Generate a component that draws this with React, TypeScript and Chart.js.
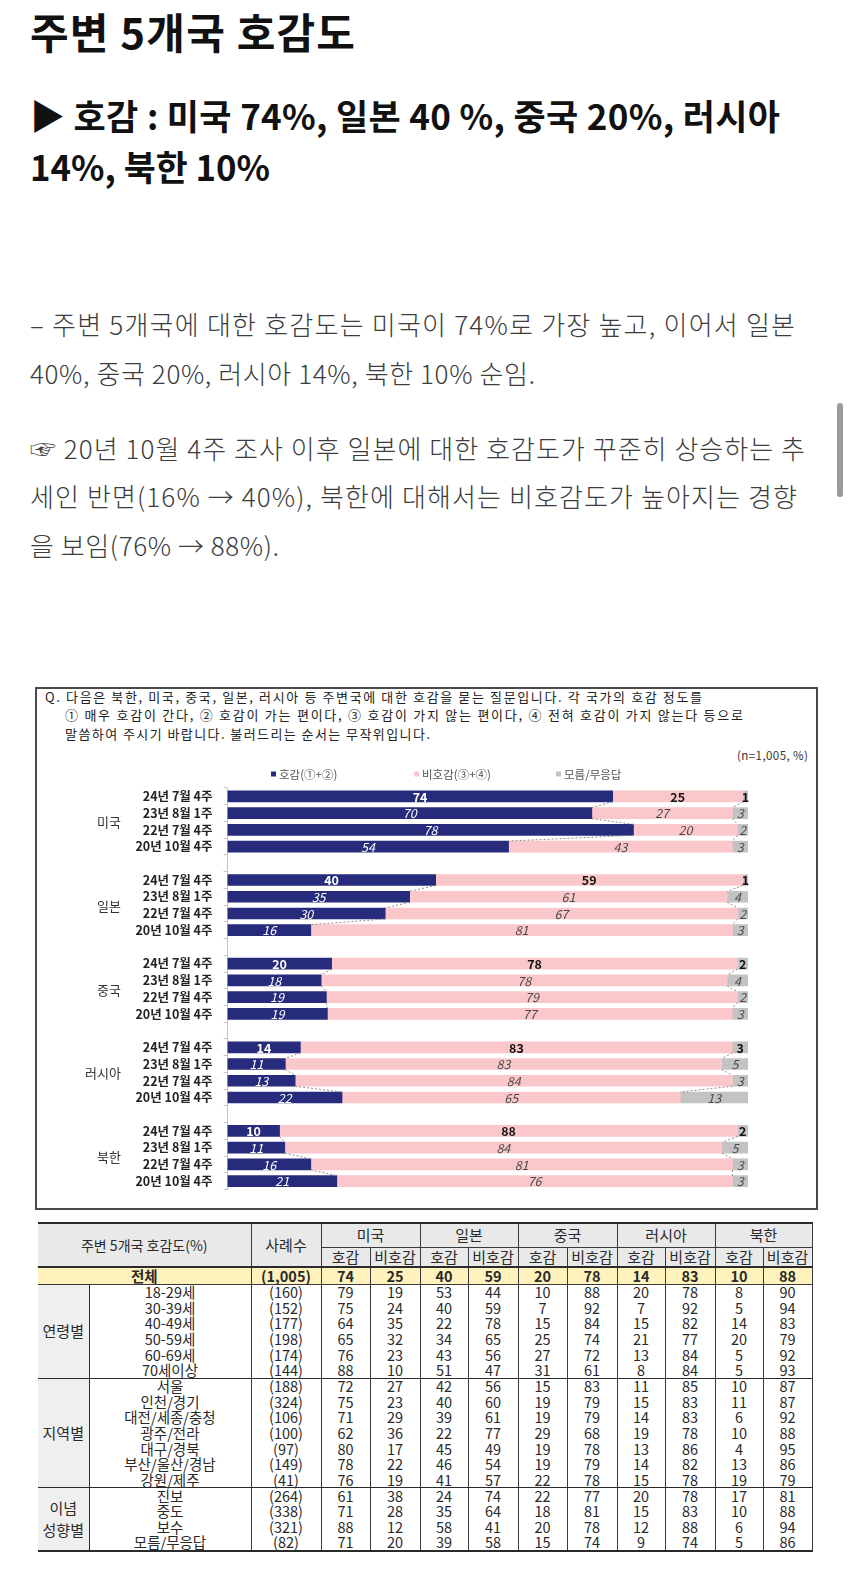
import React, { useEffect, useLayoutEffect, useRef } from 'react';
import { Chart, registerables } from 'chart.js';

Chart.register(...registerables);

const FONT = '"Noto Sans CJK KR", "Noto Sans", sans-serif';

// ---------- chart data ----------
const countries = ['미국', '일본', '중국', '러시아', '북한'];
const waves = ['24년 7월 4주', '23년 8월 1주', '22년 7월 4주', '20년 10월 4주'];
const favorable = [
  [74, 70, 78, 54],
  [40, 35, 30, 16],
  [20, 18, 19, 19],
  [14, 11, 13, 22],
  [10, 11, 16, 21],
];
const unfavorable = [
  [25, 27, 20, 43],
  [59, 61, 67, 81],
  [78, 78, 79, 77],
  [83, 83, 84, 65],
  [88, 84, 81, 76],
];
const dontKnow = [
  [1, 3, 2, 3],
  [1, 4, 2, 3],
  [2, 4, 2, 3],
  [3, 5, 3, 13],
  [2, 5, 3, 3],
];
const seriesNames = ['호감(①+②)', '비호감(③+④)', '모름/무응답'];
const seriesColors = ['#272b7b', '#fbc7cb', '#c3c3c3'];

// ---------- table data ----------
const tableCountries = ['미국', '일본', '중국', '러시아', '북한'];
const totalN = '(1,005)';
const totalVals = [74, 25, 40, 59, 20, 78, 14, 83, 10, 88];
const ageRows = ['18-29세', '30-39세', '40-49세', '50-59세', '60-69세', '70세이상'];
const ageN = ['(160)', '(152)', '(177)', '(198)', '(174)', '(144)'];
const ageVals = [
  [79, 19, 53, 44, 10, 88, 20, 78, 8, 90],
  [75, 24, 40, 59, 7, 92, 7, 92, 5, 94],
  [64, 35, 22, 78, 15, 84, 15, 82, 14, 83],
  [65, 32, 34, 65, 25, 74, 21, 77, 20, 79],
  [76, 23, 43, 56, 27, 72, 13, 84, 5, 92],
  [88, 10, 51, 47, 31, 61, 8, 84, 5, 93],
];
const regionRows = ['서울', '인천/경기', '대전/세종/충청', '광주/전라', '대구/경북', '부산/울산/경남', '강원/제주'];
const regionN = ['(188)', '(324)', '(106)', '(100)', '(97)', '(149)', '(41)'];
const regionVals = [
  [72, 27, 42, 56, 15, 83, 11, 85, 10, 87],
  [75, 23, 40, 60, 19, 79, 15, 83, 11, 87],
  [71, 29, 39, 61, 19, 79, 14, 83, 6, 92],
  [62, 36, 22, 77, 29, 68, 19, 78, 10, 88],
  [80, 17, 45, 49, 19, 78, 13, 86, 4, 95],
  [78, 22, 46, 54, 19, 79, 14, 82, 13, 86],
  [76, 19, 41, 57, 22, 78, 15, 78, 19, 79],
];
const ideoRows = ['진보', '중도', '보수', '모름/무응답'];
const ideoN = ['(264)', '(338)', '(321)', '(82)'];
const ideoVals = [
  [61, 38, 24, 74, 22, 77, 20, 78, 17, 81],
  [71, 28, 35, 64, 18, 81, 15, 83, 10, 88],
  [88, 12, 58, 41, 20, 78, 12, 88, 6, 94],
  [71, 20, 39, 58, 15, 74, 9, 74, 5, 86],
];
const tableGroups = [
  { name: ['연령별'], rows: ageRows, n: ageN, vals: ageVals },
  { name: ['지역별'], rows: regionRows, n: regionN, vals: regionVals },
  { name: ['이념', '성향별'], rows: ideoRows, n: ideoN, vals: ideoVals },
];

// ---------- derived chart structures ----------
type Slot = { g: number; w: number } | null;
const slots: Slot[] = [];
countries.forEach((_, g) => {
  if (g > 0) slots.push(null);
  waves.forEach((_, w) => slots.push({ g, w }));
});
const yLabels = slots.map((s) => (s ? waves[s.w] : ''));
const rawSeries = [favorable, unfavorable, dontKnow];
const rawBySlot = rawSeries.map((series) => slots.map((s) => (s ? series[s.g][s.w] : null)));
const sumBySlot = slots.map((s) => (s ? rawSeries.reduce((a, series) => a + series[s.g][s.w], 0) : 1));

const chartPlugin = {
  id: 'surveyDecor',
  afterDatasetsDraw(chart: any) {
    const ctx = chart.ctx;
    ctx.save();
    // series lines
    ctx.strokeStyle = '#8c8c8c';
    ctx.lineWidth = 1;
    ctx.setLineDash([2, 2]);
    [0, 1].forEach((di) => {
      const els = chart.getDatasetMeta(di).data;
      for (let i = 0; i < slots.length - 1; i++) {
        if (!slots[i] || !slots[i + 1]) continue;
        const a = els[i];
        const b = els[i + 1];
        ctx.beginPath();
        ctx.moveTo(a.x, a.y + a.height / 2);
        ctx.lineTo(b.x, b.y - b.height / 2);
        ctx.stroke();
      }
    });
    ctx.setLineDash([]);
    // value labels
    ctx.textAlign = 'center';
    ctx.textBaseline = 'middle';
    chart.data.datasets.forEach((_: any, di: number) => {
      const els = chart.getDatasetMeta(di).data;
      els.forEach((el: any, i: number) => {
        const s = slots[i];
        const v = rawBySlot[di][i];
        if (!s || v == null) return;
        const first = s.w === 0;
        ctx.font = `${first ? 'bold' : 'italic'} 12.5px ${FONT}`;
        ctx.fillStyle = di === 0 ? '#ffffff' : first ? '#111111' : '#4a4a4a';
        ctx.fillText(String(v), (el.x + el.base) / 2, el.y + 0.5);
      });
    });
    // group labels
    const y = chart.scales.y;
    ctx.textAlign = 'right';
    ctx.font = `13px ${FONT}`;
    ctx.fillStyle = '#333';
    countries.forEach((c, g) => {
      const idx = slots.map((s, i) => (s && s.g === g ? i : -1)).filter((i) => i >= 0);
      const cy = (y.getPixelForValue(idx[0]) + y.getPixelForValue(idx[idx.length - 1])) / 2;
      ctx.fillText(c, 84, cy + 1);
    });
    ctx.restore();
  },
  afterDraw(chart: any) {
    const ctx = chart.ctx;
    const xs = [234, 377, 519];
    const ly = 12;
    ctx.save();
    ctx.font = `11.5px ${FONT}`;
    ctx.textBaseline = 'middle';
    ctx.textAlign = 'left';
    chart.data.datasets.forEach((ds: any, i: number) => {
      ctx.fillStyle = ds.backgroundColor;
      ctx.fillRect(xs[i], ly - 2.5, 5, 5);
      ctx.fillStyle = '#555';
      ctx.fillText(ds.label, xs[i] + 8, ly + 0.5);
    });
    ctx.restore();
  },
};

function SurveyChart() {
  const ref = useRef<HTMLCanvasElement>(null);
  useEffect(() => {
    const chart = new Chart(ref.current as HTMLCanvasElement, {
      type: 'bar',
      data: {
        labels: yLabels,
        datasets: rawSeries.map((_, k) => ({
          label: seriesNames[k],
          data: rawBySlot[k].map((v, i) => (v == null ? null : (v / sumBySlot[i]) * 100)),
          backgroundColor: seriesColors[k],
          borderWidth: 0,
          barThickness: 11,
        })),
      },
      options: {
        indexAxis: 'y',
        responsive: false,
        animation: false,
        layout: { padding: { left: 0, right: 68, top: 26, bottom: 6 } },
        scales: {
          x: { stacked: true, min: 0, max: 100, display: false },
          y: {
            stacked: true,
            afterFit: (scale: any) => {
              scale.width = 190.5;
            },
            grid: { drawOnChartArea: false, drawTicks: true, tickLength: 4, color: '#c4c4c4', offset: true },
            border: { display: true, color: '#c4c4c4' },
            ticks: {
              autoSkip: false,
              padding: 11,
              color: '#222',
              font: { family: FONT, size: 12.5, weight: 'bold' },
            },
          },
        },
        plugins: { legend: { display: false }, tooltip: { enabled: false } },
      } as any,
      plugins: [chartPlugin],
    });
    return () => chart.destroy();
  }, []);
  return (
    <canvas
      ref={ref}
      width={779}
      height={446}
      style={{ position: 'absolute', left: 37, top: 762, width: 779, height: 446 }}
    />
  );
}

// Text line fitted to a measured width: condensed with scaleX when too wide, spaced when too narrow.
function FitText(props: {
  text: string;
  x: number;
  cy: number;
  w: number;
  size: number;
  weight?: number | string;
  color?: string;
}) {
  const { text, x, cy, w, size, weight = 400, color = '#222' } = props;
  const ref = useRef<HTMLDivElement>(null);
  useLayoutEffect(() => {
    const el = ref.current;
    if (!el) return;
    const fit = () => {
      el.style.letterSpacing = '0px';
      el.style.transform = 'none';
      const nat = el.getBoundingClientRect().width;
      const n = Array.from(text).length;
      if (nat > w) {
        el.style.transform = `scaleX(${w / nat})`;
      } else if (n > 1) {
        el.style.letterSpacing = `${(w - nat) / (n - 1)}px`;
      }
    };
    fit();
    const f: any = (document as any).fonts;
    if (f && f.ready) f.ready.then(fit);
  }, [text, w]);
  return (
    <div
      ref={ref}
      style={{
        position: 'absolute',
        left: x,
        top: cy - size * 0.56,
        fontSize: size,
        lineHeight: `${size}px`,
        fontWeight: weight as any,
        color,
        fontFamily: FONT,
        whiteSpace: 'nowrap',
        transformOrigin: '0 50%',
      }}
    >
      {text}
    </div>
  );
}

const colW = [51, 162, 70, 49, 50, 48, 50, 49, 50, 48, 50, 48, 49];
const LINE = '1px solid #3a3a3a';
const THICK = '2px solid #2a2a2a';
const MID = '1.5px solid #2a2a2a';
const HEADER_BG = '#e9e9e9';

function SurveyTable() {
  const cell: React.CSSProperties = {
    padding: 0,
    textAlign: 'center',
    verticalAlign: 'middle',
    lineHeight: '14px',
    whiteSpace: 'nowrap',
    overflow: 'visible',
  };
  return (
    <table
      style={{
        position: 'absolute',
        left: 38,
        top: 1222,
        width: 774,
        borderCollapse: 'collapse',
        tableLayout: 'fixed',
        fontFamily: FONT,
        fontSize: 14.5,
        color: '#2a2a2a',
      }}
    >
      <colgroup>
        {colW.map((w, i) => (
          <col key={i} style={{ width: w }} />
        ))}
      </colgroup>
      <thead>
        <tr style={{ height: 24 }}>
          <th
            colSpan={2}
            rowSpan={2}
            style={{ ...cell, fontWeight: 400, fontSize: 14, background: HEADER_BG, borderTop: THICK, borderRight: LINE, borderBottom: THICK }}
          >
            주변 5개국 호감도(%)
          </th>
          <th
            rowSpan={2}
            style={{ ...cell, fontWeight: 400, fontSize: 15, background: HEADER_BG, borderTop: THICK, borderRight: LINE, borderBottom: THICK }}
          >
            사례수
          </th>
          {tableCountries.map((c) => (
            <th
              key={c}
              colSpan={2}
              style={{ ...cell, fontWeight: 400, fontSize: 15, background: HEADER_BG, borderTop: THICK, borderRight: LINE, borderBottom: LINE }}
            >
              {c}
            </th>
          ))}
        </tr>
        <tr style={{ height: 20 }}>
          {tableCountries.map((c) => (
            <React.Fragment key={c}>
              <th style={{ ...cell, fontWeight: 400, fontSize: 15, background: HEADER_BG, borderRight: LINE, borderBottom: THICK }}>호감</th>
              <th style={{ ...cell, fontWeight: 400, fontSize: 15, background: HEADER_BG, borderRight: LINE, borderBottom: THICK }}>비호감</th>
            </React.Fragment>
          ))}
        </tr>
      </thead>
      <tbody>
        <tr style={{ height: 17, background: '#fff2bd', fontWeight: 700 }}>
          <td colSpan={2} style={{ ...cell, borderRight: LINE, borderBottom: LINE }}>전체</td>
          <td style={{ ...cell, borderRight: LINE, borderBottom: LINE }}>{totalN}</td>
          {totalVals.map((v, i) => (
            <td key={i} style={{ ...cell, borderRight: LINE, borderBottom: LINE }}>{v}</td>
          ))}
        </tr>
        {tableGroups.map((grp, gi) =>
          grp.rows.map((r, ri) => {
            const last = ri === grp.rows.length - 1;
            const bb = last ? (gi === tableGroups.length - 1 ? THICK : MID) : undefined;
            return (
              <tr key={`${gi}-${ri}`} style={{ height: 15.7 }}>
                {ri === 0 && (
                  <td
                    rowSpan={grp.rows.length}
                    style={{ ...cell, fontSize: 15, lineHeight: '22px', background: '#efefef', borderRight: MID, borderBottom: gi === tableGroups.length - 1 ? THICK : MID }}
                  >
                    {grp.name.map((t, k) => (
                      <div key={k}>{t}</div>
                    ))}
                  </td>
                )}
                <td style={{ ...cell, borderRight: LINE, borderBottom: bb }}>{r}</td>
                <td style={{ ...cell, borderRight: LINE, borderBottom: bb }}>{grp.n[ri]}</td>
                {grp.vals[ri].map((v, i) => (
                  <td key={i} style={{ ...cell, borderRight: LINE, borderBottom: bb }}>{v}</td>
                ))}
              </tr>
            );
          })
        )}
      </tbody>
    </table>
  );
}

export default function App() {
  useEffect(() => {
    document.body.style.margin = '0';
    document.body.style.background = '#fff';
  }, []);
  const bodyColor = '#3c3c3c';
  return (
    <div style={{ position: 'absolute', left: 0, top: 0, width: 850, height: 1569, overflow: 'hidden', background: '#fff', fontFamily: FONT }}>
      <FitText text="주변 5개국 호감도" x={30} cy={34} w={325} size={42} weight={700} color="#111" />
      <FitText text="▶ 호감 : 미국 74%, 일본 40 %, 중국 20%, 러시아" x={30} cy={117} w={750} size={35} weight={700} color="#111" />
      <FitText text="14%, 북한 10%" x={30} cy={168} w={240} size={35} weight={700} color="#111" />

      <FitText text="– 주변 5개국에 대한 호감도는 미국이 74%로 가장 높고, 이어서 일본" x={30} cy={326} w={765} size={26} weight={300} color={bodyColor} />
      <FitText text="40%, 중국 20%, 러시아 14%, 북한 10% 순임." x={30} cy={375} w={505} size={26} weight={300} color={bodyColor} />
      <FitText text="☞ 20년 10월 4주 조사 이후 일본에 대한 호감도가 꾸준히 상승하는 추" x={30} cy={450} w={775} size={26} weight={300} color={bodyColor} />
      <FitText text="세인 반면(16% → 40%), 북한에 대해서는 비호감도가 높아지는 경향" x={30} cy={498} w={767} size={26} weight={300} color={bodyColor} />
      <FitText text="을 보임(76% → 88%)." x={30} cy={547} w={249} size={26} weight={300} color={bodyColor} />

      <div style={{ position: 'absolute', left: 837, top: 403, width: 6, height: 94, borderRadius: 3, background: '#9a9a9a' }} />

      <div
        style={{
          position: 'absolute',
          left: 35,
          top: 687,
          width: 783,
          height: 523,
          boxSizing: 'border-box',
          border: '2px solid #4a4a4a',
        }}
      />
      <FitText text="Q. 다음은 북한, 미국, 중국, 일본, 러시아 등 주변국에 대한 호감을 묻는 질문입니다. 각 국가의 호감 정도를" x={45} cy={697} w={657} size={13} color="#222" />
      <FitText text="① 매우 호감이 간다, ② 호감이 가는 편이다, ③ 호감이 가지 않는 편이다, ④ 전혀 호감이 가지 않는다 등으로" x={65} cy={715.5} w={678} size={13} color="#222" />
      <FitText text="말씀하여 주시기 바랍니다. 불러드리는 순서는 무작위입니다." x={65} cy={734} w={365} size={13} color="#222" />
      <FitText text="(n=1,005, %)" x={737} cy={756} w={71} size={11.5} color="#333" />

      <SurveyChart />
      <SurveyTable />
    </div>
  );
}
